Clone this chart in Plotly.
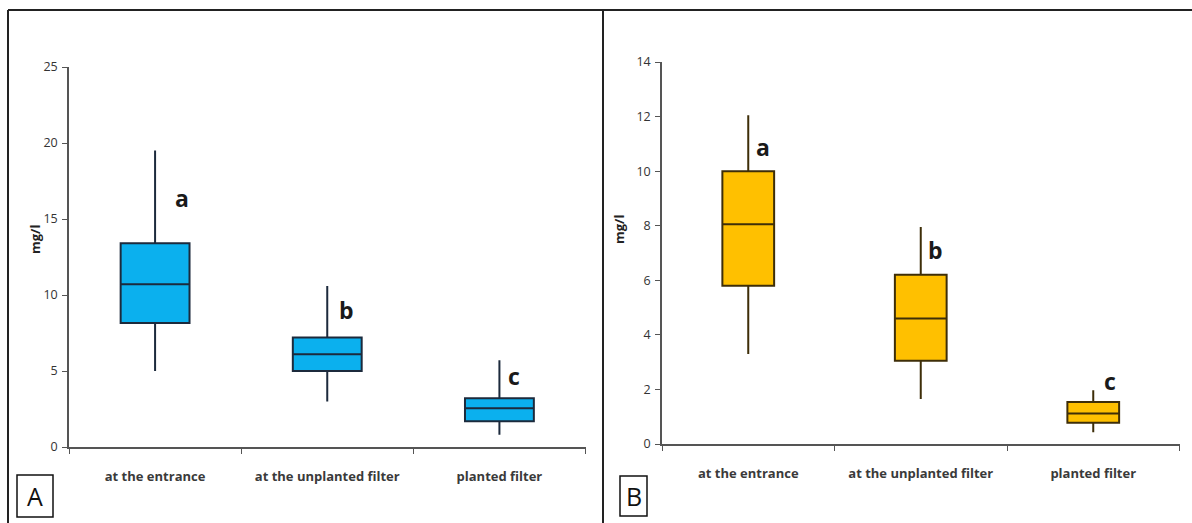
import plotly.graph_objects as go

# ---------------- data ----------------
categories = ["at the entrance", "at the unplanted filter", "planted filter"]

a_min = [5.0, 3.0, 0.8]
a_q1 = [8.15, 5.0, 1.7]
a_median = [10.7, 6.1, 2.55]
a_q3 = [13.4, 7.2, 3.2]
a_max = [19.5, 10.6, 5.7]
a_letters = ["a", "b", "c"]
a_letter_y = [16.4, 9.0, 4.7]
a_yticks = [0, 5, 10, 15, 20, 25]

b_min = [3.3, 1.65, 0.43]
b_q1 = [5.8, 3.05, 0.78]
b_median = [8.05, 4.6, 1.12]
b_q3 = [10.0, 6.2, 1.54]
b_max = [12.05, 7.95, 1.97]
b_letters = ["a", "b", "c"]
b_letter_y = [10.9, 7.1, 2.3]
b_yticks = [0, 2, 4, 6, 8, 10, 12, 14]

panel_labels = ["A", "B"]
y_title = "mg/l"

# ---------------- layout helpers ----------------
W, H = 1192, 523


def px(x):
    return x / W


def py(y):
    return 1 - y / H


FONT = "Open Sans, Lato, DejaVu Sans, sans-serif"

fig = go.Figure()

fig.add_trace(go.Box(
    x=categories, q1=a_q1, median=a_median, q3=a_q3,
    lowerfence=a_min, upperfence=a_max,
    fillcolor="#0BB0EE", line=dict(color="#1c2a3c", width=2),
    whiskerwidth=0, width=0.4, boxpoints=False,
    xaxis="x", yaxis="y", showlegend=False,
))
fig.add_trace(go.Box(
    x=categories, q1=b_q1, median=b_median, q3=b_q3,
    lowerfence=b_min, upperfence=b_max,
    fillcolor="#FFC000", line=dict(color="#3e2e08", width=2),
    whiskerwidth=0, width=0.3, boxpoints=False,
    xaxis="x2", yaxis="y2", showlegend=False,
))

xcommon = dict(
    type="category", range=[-0.5, 2.5], tickson="boundaries",
    ticks="outside", ticklen=5, tickcolor="#555", showline=True,
    linecolor="#555", linewidth=1.5, showgrid=False, zeroline=False,
    tickfont=dict(family=FONT, size=13, color="#3a3a3a", weight="bold"),
    ticklabelstandoff=17, fixedrange=True, automargin=False,
)
ycommon = dict(
    ticks="outside", ticklen=5, tickcolor="#555", showline=True,
    linecolor="#555", linewidth=1.5, showgrid=False, zeroline=False,
    tickfont=dict(family=FONT, size=12.5, color="#333"),
    ticklabelstandoff=2, fixedrange=True, automargin=False,
)

fig.update_layout(
    width=W, height=H, autosize=False,
    margin=dict(l=0, r=0, t=0, b=0, pad=0, autoexpand=False),
    paper_bgcolor="white", plot_bgcolor="white",
    xaxis=dict(domain=[px(69), px(585.5)], anchor="y", **xcommon),
    yaxis=dict(domain=[py(447), py(67)], anchor="x", range=[0, 25],
               tickvals=a_yticks, **ycommon),
    xaxis2=dict(domain=[px(662), px(1179.5)], anchor="y2", **xcommon),
    yaxis2=dict(domain=[py(444), py(62)], anchor="x2", range=[0, 14],
                tickvals=b_yticks, **ycommon),
)

annotations = []
a_shift = [27, 19, 15]
b_shift = [15, 15, 17]
for i, (lt, ly) in enumerate(zip(a_letters, a_letter_y)):
    annotations.append(dict(x=i, y=ly, xref="x", yref="y", text=lt,
                            showarrow=False, xshift=a_shift[i],
                            font=dict(family=FONT, size=23, color="#1a1a1a",
                                      weight="bold")))
for i, (lt, ly) in enumerate(zip(b_letters, b_letter_y)):
    annotations.append(dict(x=i, y=ly, xref="x2", yref="y2", text=lt,
                            showarrow=False, xshift=b_shift[i],
                            font=dict(family=FONT, size=23, color="#1a1a1a",
                                      weight="bold")))

# axis titles
for xpx, ypx in [(24, 240), (619, 230)]:
    annotations.append(dict(x=px(xpx), y=py(ypx), xref="paper", yref="paper",
                            text=y_title, textangle=-90, showarrow=False,
                            font=dict(family=FONT, size=13, color="#222",
                                      weight="bold")))

# panel labels
label_boxes = [(17, 53, 475, 517), (620, 647, 476, 516)]
shapes = []
for lab, (x0, x1, y0, y1) in zip(panel_labels, label_boxes):
    shapes.append(dict(type="rect", xref="paper", yref="paper",
                       x0=px(x0), x1=px(x1), y0=py(y1), y1=py(y0),
                       line=dict(color="#111", width=1.5),
                       fillcolor="rgba(0,0,0,0)"))
    annotations.append(dict(x=px((x0 + x1) / 2), y=py((y0 + y1) / 2),
                            xref="paper", yref="paper", text=lab,
                            xanchor="center", yanchor="middle",
                            showarrow=False,
                            font=dict(family=FONT, size=25, color="#111")))

# outer frames
frame = dict(color="#222", width=2)
shapes.append(dict(type="line", xref="paper", yref="paper",
                   x0=px(8), x1=1, y0=py(10), y1=py(10), line=frame))
shapes.append(dict(type="line", xref="paper", yref="paper",
                   x0=px(8), x1=px(8), y0=py(10), y1=0, line=frame))
shapes.append(dict(type="line", xref="paper", yref="paper",
                   x0=px(603), x1=px(603), y0=py(10), y1=0, line=frame))

fig.update_layout(annotations=annotations, shapes=shapes)

fig.write_html(
    "out.html",
    config={"displayModeBar": False},
    post_script="document.body.style.margin='0';"
                "document.body.style.overflow='hidden';",
)
